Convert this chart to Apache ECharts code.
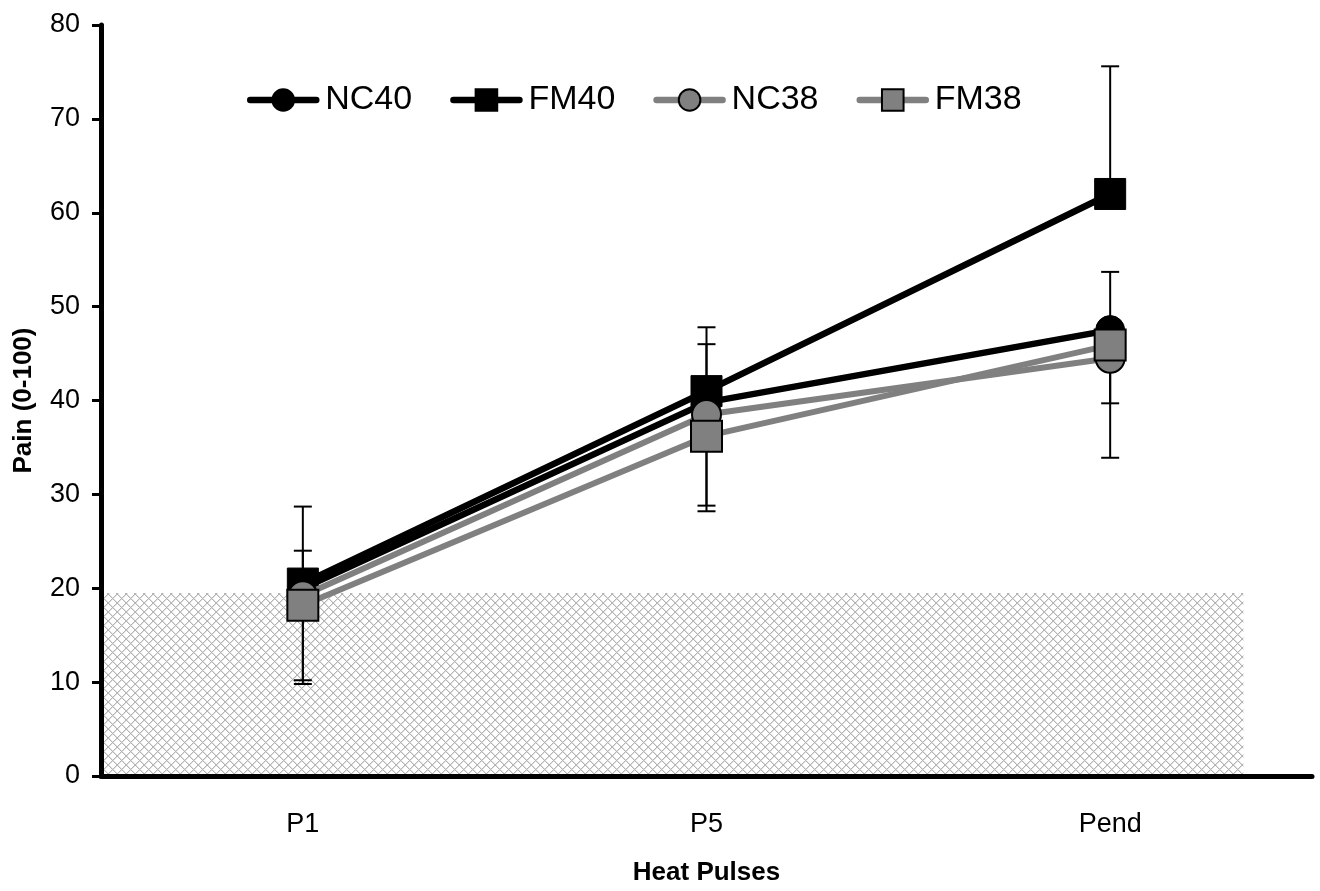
<!DOCTYPE html>
<html>
<head>
<meta charset="utf-8">
<script src="https://cdn.jsdelivr.net/npm/echarts@6/dist/echarts.min.js"></script>
<style>
html,body{margin:0;padding:0;background:#fff;}
#chart{width:1320px;height:891px;}
</style>
</head>
<body>
<div id="chart"></div>
<script>
// ---- data ----
const categories = ['P1', 'P5', 'Pend'];
const seriesNames = ['NC40', 'FM40', 'NC38', 'FM38'];
const nc40 = [20.0, 39.8, 47.5];
const fm40 = [20.5, 41.0, 62.0];
const nc38 = [19.2, 38.5, 44.5];
const fm38 = [18.2, 36.2, 45.9];
// one-sided error bars: 40-series upward, 38-series downward
const nc40ErrUp = [4.0, 6.2, 6.2];
const fm40ErrUp = [8.2, 6.8, 13.6];
const nc38ErrDown = [9.0, 10.3, 4.8];
const fm38ErrDown = [8.4, 7.4, 12.0];
// shaded (hatched) band: 0 .. 19.5 on y, from axis start to 2.83 category widths
const hatchTop = 19.5;
const hatchEnd = 2.83;
const yTicks = [0, 10, 20, 30, 40, 50, 60, 70, 80];

const FONT = "'Liberation Sans', Arial, sans-serif";
const GREY = '#808080';

// crosshatch pattern
const P = 9;
const pc = document.createElement('canvas');
pc.width = P; pc.height = P;
const g = pc.getContext('2d');
g.fillStyle = '#ffffff'; g.fillRect(0, 0, P, P);
for (let i = 0; i < P; i++) {
  g.fillStyle = '#e0e0e0';
  g.fillRect((i + 1) % P, i, 1, 1);
  g.fillRect((P - i) % P, i, 1, 1);
  g.fillStyle = '#b4b4b4';
  g.fillRect(i, i, 1, 1);
  g.fillRect(P - 1 - i, i, 1, 1);
}

function errData(means, errs, dir) {
  return means.map((m, i) => [i, m, m + dir * errs[i]]);
}
const errAll = []
  .concat(errData(nc40, nc40ErrUp, 1))
  .concat(errData(fm40, fm40ErrUp, 1))
  .concat(errData(nc38, nc38ErrDown, -1))
  .concat(errData(fm38, fm38ErrDown, -1));

const chart = echarts.init(document.getElementById('chart'), null, {renderer: 'canvas'});
const option = {
  animation: false,
  backgroundColor: '#ffffff',
  textStyle: {fontFamily: FONT},
  grid: {left: 101, right: 8, top: 25, bottom: 113, containLabel: false},
  legend: {
    data: seriesNames,
    left: 242, top: 78,
    itemWidth: 66, itemHeight: 27, itemGap: 38,
    lineStyle: {width: 6.5, cap: 'round'},
    textStyle: {fontFamily: FONT, fontSize: 34, color: '#000', padding: [0, 0, 0, 4]}
  },
  xAxis: [{
    type: 'category',
    data: categories,
    boundaryGap: true,
    name: 'Heat Pulses',
    nameLocation: 'middle',
    nameGap: 84,
    nameTextStyle: {fontFamily: FONT, fontSize: 26, fontWeight: 'bold', color: '#000'},
    axisLine: {show: true, lineStyle: {color: '#000', width: 5, cap: 'round'}},
    axisTick: {show: false},
    axisLabel: {fontFamily: FONT, fontSize: 27, color: '#000', margin: 35},
    splitLine: {show: false}
  }, {
    type: 'value', min: 0, max: 3, show: false
  }],
  yAxis: {
    type: 'value',
    min: 0, max: 80, interval: 10,
    name: 'Pain (0-100)',
    nameLocation: 'middle',
    nameGap: 64,
    nameRotate: 90,
    nameTextStyle: {fontFamily: FONT, fontSize: 26, fontWeight: 'bold', color: '#000'},
    axisLine: {show: true, lineStyle: {color: '#000', width: 5, cap: 'round'}},
    axisTick: {show: true, length: 9, lineStyle: {color: '#000', width: 3}},
    axisLabel: {fontFamily: FONT, fontSize: 27, color: '#000', margin: 21,
      formatter: v => (yTicks.indexOf(v) >= 0 ? String(v) : '')},
    splitLine: {show: false}
  },
  series: [
    {
      type: 'custom',
      name: 'hatch',
      xAxisIndex: 1,
      z: 0,
      silent: true,
      clip: true,
      data: [[0, 0, hatchEnd, hatchTop]],
      renderItem: function (params, api) {
        const p0 = api.coord([api.value(0), api.value(1)]);
        const p1 = api.coord([api.value(2), api.value(3)]);
        return {
          type: 'rect',
          shape: {x: p0[0], y: p1[1], width: p1[0] - p0[0], height: p0[1] - p1[1]},
          style: {fill: {image: pc, repeat: 'repeat'}}
        };
      }
    },
    {
      type: 'custom',
      name: 'errors',
      z: 1,
      silent: true,
      encode: {x: 0, y: [1, 2]},
      data: errAll,
      renderItem: function (params, api) {
        const a = api.coord([api.value(0), api.value(1)]);
        const b = api.coord([api.value(0), api.value(2)]);
        const hw = 9;
        const st = {stroke: '#000', lineWidth: 2};
        return {
          type: 'group',
          children: [
            {type: 'line', shape: {x1: a[0], y1: a[1], x2: b[0], y2: b[1]}, style: st},
            {type: 'line', shape: {x1: b[0] - hw, y1: b[1], x2: b[0] + hw, y2: b[1]}, style: st}
          ]
        };
      }
    },
    {
      name: 'NC40', type: 'line', data: nc40, z: 3,
      symbol: 'circle', symbolSize: 29,
      lineStyle: {color: '#000', width: 6.5},
      itemStyle: {color: '#000', borderColor: '#000', borderWidth: 1}
    },
    {
      name: 'FM40', type: 'line', data: fm40, z: 4,
      symbol: 'rect', symbolSize: 31,
      lineStyle: {color: '#000', width: 6.5},
      itemStyle: {color: '#000', borderColor: '#000', borderWidth: 1}
    },
    {
      name: 'NC38', type: 'line', data: nc38, z: 5,
      symbol: 'circle', symbolSize: 29,
      lineStyle: {color: GREY, width: 6},
      itemStyle: {color: GREY, borderColor: '#000', borderWidth: 2}
    },
    {
      name: 'FM38', type: 'line', data: fm38, z: 6,
      symbol: 'rect', symbolSize: 31,
      lineStyle: {color: GREY, width: 6},
      itemStyle: {color: GREY, borderColor: '#000', borderWidth: 2}
    }
  ]
};
chart.setOption(option);
</script>
</body>
</html>
